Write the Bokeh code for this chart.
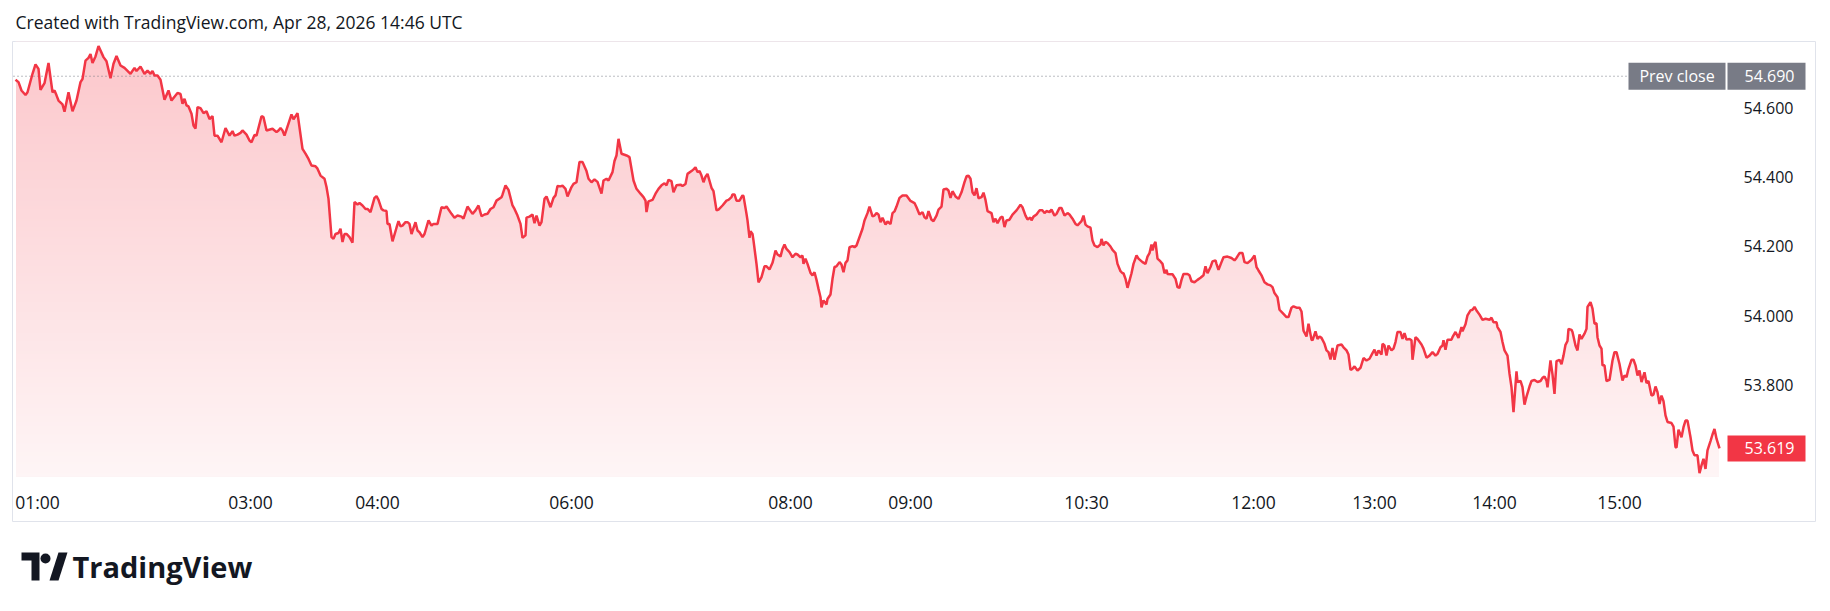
import numpy as np
from bokeh.plotting import figure
from bokeh.layouts import column
from bokeh.models import Range1d, FixedTicker, ColumnDataSource
from bokeh.embed import file_html
from bokeh.resources import INLINE
from bokeh.core.properties import value

FONT = "Open Sans"
TEXT = "#131722"
RED = "#F23645"
RED_RGB = (242, 54, 69)
GRAY = "#787B86"

title_text = "Created with TradingView.com, Apr 28, 2026 14:46 UTC"
brand_text = "TradingView"
prev_close_label = "Prev close"
prev_close = 54.690
last_price = 53.619

# ---- price series (bar index, price) in four sessions ----
bars_1 = [0, 3, 6, 10, 12, 17, 20, 23, 25, 29, 33, 37, 39, 41, 43, 47, 49, 53, 57, 61, 65, 67, 70, 73, 75, 77, 80, 83,
          88, 91, 95, 98, 101, 105, 109, 115, 119, 121, 125, 129, 132, 135, 137, 139, 142, 145, 149, 153, 156, 162, 165,
          167, 169, 171, 173, 176, 178, 180, 182, 185, 188, 191, 194, 197, 199, 202, 206, 210, 214, 217, 219, 222, 225,
          227, 231, 234, 236, 239, 241, 246, 248, 251, 257, 261, 263, 265, 267, 269, 276, 278, 282, 287, 290, 293, 296,
          300, 302, 305, 309, 311, 313, 316, 318, 320, 323, 325, 327, 329, 331, 334, 337, 339, 342, 344, 347, 350, 352,
          355, 359, 361, 363, 366, 368, 371, 372, 374, 377, 381, 383, 385, 387, 390, 392, 394, 396, 400, 402, 404, 407,
          409, 413, 416, 418, 422]
prices_1 = [54.680, 54.673, 54.649, 54.636, 54.644, 54.697, 54.724, 54.711, 54.651, 54.670, 54.728, 54.644, 54.649,
            54.635, 54.620, 54.609, 54.588, 54.644, 54.589, 54.620, 54.673, 54.682, 54.735, 54.743, 54.754, 54.728,
            54.747, 54.777, 54.745, 54.733, 54.684, 54.726, 54.748, 54.721, 54.714, 54.697, 54.714, 54.705, 54.718,
            54.697, 54.706, 54.697, 54.705, 54.692, 54.692, 54.680, 54.622, 54.649, 54.620, 54.642, 54.639, 54.611,
            54.625, 54.606, 54.603, 54.582, 54.548, 54.539, 54.601, 54.598, 54.584, 54.589, 54.567, 54.575, 54.519,
            54.519, 54.500, 54.541, 54.519, 54.532, 54.519, 54.522, 54.527, 54.534, 54.522, 54.505, 54.500, 54.521,
            54.519, 54.575, 54.572, 54.534, 54.539, 54.529, 54.534, 54.541, 54.534, 54.519, 54.580, 54.566, 54.584,
            54.481, 54.467, 54.452, 54.433, 54.431, 54.424, 54.404, 54.395, 54.371, 54.337, 54.227, 54.222, 54.236,
            54.239, 54.251, 54.213, 54.236, 54.236, 54.227, 54.211, 54.328, 54.321, 54.325, 54.318, 54.308, 54.308,
            54.299, 54.340, 54.345, 54.334, 54.308, 54.304, 54.302, 54.265, 54.265, 54.215, 54.254, 54.273, 54.258,
            54.260, 54.270, 54.270, 54.265, 54.236, 54.270, 54.246, 54.241, 54.227, 54.236, 54.275, 54.260, 54.265,
            54.265]

bars_2 = [426, 429, 431, 436, 439, 442, 446, 448, 452, 457, 460, 463, 466, 469, 472, 475, 478, 481, 486, 487, 490, 493,
          497, 499, 502, 505, 507, 510, 511, 514, 517, 519, 521, 524, 526, 529, 531, 535, 538, 540, 542, 545, 547, 550,
          552, 556, 558, 561, 564, 567, 571, 573, 576, 579, 582, 586, 588, 591, 593, 597, 599, 601, 603, 606, 609, 611,
          614, 618, 621, 625, 628, 630, 631, 633, 637, 640, 643, 646, 649, 651, 653, 656, 658, 661, 665, 667, 670, 672,
          676, 678, 680, 682, 684, 686, 688, 690, 692, 696, 698, 701, 703, 707, 711, 713, 716, 717, 719, 721, 724, 727,
          728, 731, 732, 734, 735, 737, 738, 741, 743, 746, 749, 751, 754, 757, 760, 762, 765, 767, 769, 771, 774, 777,
          780, 782, 785, 787, 788, 790, 792, 795, 797, 799, 801, 803, 805, 806, 808, 811, 812, 815, 817, 819, 821, 824,
          826, 828, 830, 832, 834, 837, 839, 841]
prices_2 = [54.313, 54.311, 54.315, 54.294, 54.283, 54.289, 54.286, 54.280, 54.315, 54.294, 54.304, 54.318, 54.287,
            54.292, 54.294, 54.308, 54.313, 54.332, 54.342, 54.349, 54.376, 54.363, 54.318, 54.308, 54.289, 54.265,
            54.225, 54.232, 54.283, 54.286, 54.292, 54.267, 54.289, 54.260, 54.270, 54.337, 54.344, 54.313, 54.340,
            54.347, 54.374, 54.373, 54.375, 54.366, 54.344, 54.371, 54.380, 54.385, 54.443, 54.443, 54.417, 54.395,
            54.385, 54.393, 54.386, 54.352, 54.390, 54.395, 54.390, 54.414, 54.446, 54.462, 54.510, 54.467, 54.464,
            54.462, 54.457, 54.390, 54.366, 54.352, 54.342, 54.332, 54.299, 54.330, 54.334, 54.352, 54.366, 54.376,
            54.382, 54.376, 54.392, 54.388, 54.356, 54.376, 54.378, 54.374, 54.380, 54.409, 54.417, 54.422, 54.428,
            54.414, 54.417, 54.404, 54.385, 54.401, 54.409, 54.369, 54.359, 54.304, 54.306, 54.318, 54.332, 54.334,
            54.342, 54.350, 54.350, 54.332, 54.332, 54.347, 54.345, 54.294, 54.275, 54.225, 54.244, 54.236, 54.217,
            54.150, 54.097, 54.112, 54.143, 54.143, 54.134, 54.153, 54.188, 54.177, 54.171, 54.193, 54.206, 54.193,
            54.184, 54.169, 54.179, 54.177, 54.169, 54.174, 54.150, 54.165, 54.150, 54.124, 54.117, 54.126, 54.104,
            54.078, 54.054, 54.025, 54.045, 54.033, 54.049, 54.062, 54.107, 54.141, 54.143, 54.155, 54.148, 54.126,
            54.153, 54.160, 54.198, 54.201, 54.198, 54.203]

bars_3 = [847, 849, 852, 854, 857, 859, 861, 863, 865, 867, 870, 872, 875, 877, 879, 881, 884, 887, 891, 895, 899, 901,
          904, 907, 909, 911, 913, 916, 918, 921, 923, 926, 928, 931, 933, 935, 937, 940, 943, 946, 949, 951, 953, 955,
          957, 959, 961, 963, 966, 968, 970, 972, 976, 978, 980, 982, 985, 987, 989, 991, 994, 997, 1001, 1005, 1007,
          1010, 1012, 1015, 1016, 1018, 1021, 1024, 1027, 1029, 1031, 1034, 1036, 1039, 1041, 1044, 1046, 1049, 1052,
          1054, 1057, 1060, 1062, 1066, 1068, 1070, 1072, 1075, 1077, 1079, 1082, 1085, 1086, 1088, 1090, 1092, 1095,
          1097, 1100, 1102, 1105, 1107, 1108, 1110, 1112, 1116, 1118, 1121, 1123, 1127, 1130, 1132, 1134, 1136, 1137,
          1139, 1140, 1142, 1145, 1147, 1149, 1151, 1152, 1155, 1157, 1160, 1162, 1164, 1166, 1168, 1172, 1174, 1176,
          1179, 1182, 1185, 1188, 1190, 1192, 1195, 1197, 1200, 1201, 1203, 1206, 1208, 1212, 1216, 1219, 1221, 1224,
          1227, 1229, 1232, 1236, 1239, 1241, 1243, 1246, 1249, 1252, 1255, 1257, 1259, 1262]
prices_3 = [54.251, 54.275, 54.296, 54.315, 54.287, 54.289, 54.296, 54.292, 54.270, 54.283, 54.263, 54.272, 54.265,
            54.296, 54.301, 54.315, 54.340, 54.347, 54.347, 54.331, 54.325, 54.313, 54.292, 54.299, 54.284, 54.280,
            54.302, 54.277, 54.273, 54.289, 54.306, 54.315, 54.364, 54.366, 54.361, 54.340, 54.359, 54.344, 54.337,
            54.356, 54.385, 54.402, 54.404, 54.395, 54.356, 54.347, 54.368, 54.339, 54.342, 54.355, 54.334, 54.302,
            54.296, 54.270, 54.280, 54.267, 54.283, 54.286, 54.256, 54.275, 54.277, 54.292, 54.304, 54.320, 54.313,
            54.289, 54.278, 54.283, 54.275, 54.286, 54.292, 54.304, 54.304, 54.296, 54.302, 54.299, 54.306, 54.289,
            54.294, 54.311, 54.311, 54.289, 54.296, 54.292, 54.280, 54.265, 54.261, 54.273, 54.289, 54.263, 54.258,
            54.254, 54.217, 54.203, 54.198, 54.206, 54.222, 54.203, 54.213, 54.210, 54.200, 54.190, 54.181, 54.150,
            54.129, 54.123, 54.123, 54.107, 54.081, 54.123, 54.150, 54.174, 54.165, 54.155, 54.150, 54.171, 54.181,
            54.206, 54.189, 54.208, 54.213, 54.165, 54.157, 54.150, 54.123, 54.133, 54.121, 54.120, 54.120, 54.107,
            54.083, 54.081, 54.104, 54.121, 54.121, 54.117, 54.100, 54.097, 54.104, 54.110, 54.117, 54.143, 54.123,
            54.141, 54.157, 54.160, 54.150, 54.133, 54.155, 54.169, 54.171, 54.167, 54.160, 54.167, 54.181, 54.181,
            54.155, 54.152, 54.162, 54.174, 54.141, 54.131, 54.117, 54.097, 54.091, 54.088, 54.083, 54.066, 54.054]

bars_4 = [1264, 1267, 1271, 1273, 1276, 1278, 1281, 1284, 1286, 1288, 1291, 1293, 1296, 1297, 1300, 1302, 1304, 1306,
          1309, 1311, 1313, 1315, 1317, 1319, 1322, 1326, 1328, 1331, 1333, 1335, 1337, 1339, 1342, 1345, 1348, 1351,
          1354, 1357, 1359, 1361, 1363, 1366, 1367, 1369, 1371, 1373, 1376, 1378, 1380, 1382, 1385, 1387, 1389, 1391,
          1394, 1396, 1397, 1400, 1402, 1406, 1408, 1411, 1414, 1417, 1420, 1422, 1425, 1427, 1428, 1430, 1432, 1436,
          1437, 1440, 1443, 1446, 1447, 1450, 1452, 1455, 1457, 1459, 1461, 1464, 1467, 1470, 1474, 1476, 1478, 1481,
          1482, 1485, 1487, 1489, 1492, 1494, 1496, 1498, 1501, 1502, 1505, 1507, 1509, 1511, 1514, 1516, 1519, 1522,
          1525, 1527, 1529, 1531, 1532, 1535, 1537, 1539, 1541, 1544, 1546, 1548, 1550, 1552, 1553, 1556, 1557, 1560,
          1562, 1564, 1566, 1569, 1571, 1572, 1575, 1577, 1579, 1581, 1582, 1584, 1586, 1587, 1589, 1591, 1594, 1597,
          1599, 1601, 1604, 1607, 1609, 1611, 1613, 1616, 1618, 1620, 1622, 1624, 1626, 1627, 1629, 1631, 1633, 1636,
          1638, 1640, 1642, 1644, 1646, 1648, 1650, 1652, 1656, 1658, 1660, 1661, 1663, 1666, 1668, 1670, 1672, 1675,
          1677, 1679, 1682, 1684, 1686, 1688, 1690, 1692, 1695, 1697, 1699, 1701, 1704]
prices_4 = [54.018, 54.009, 53.997, 53.997, 54.024, 54.028, 54.024, 54.024, 54.013, 53.958, 53.941, 53.978, 53.932,
            53.930, 53.956, 53.934, 53.941, 53.937, 53.920, 53.901, 53.896, 53.875, 53.908, 53.874, 53.915, 53.918,
            53.910, 53.901, 53.889, 53.845, 53.848, 53.855, 53.843, 53.851, 53.879, 53.872, 53.877, 53.893, 53.903,
            53.886, 53.901, 53.889, 53.920, 53.915, 53.886, 53.915, 53.901, 53.906, 53.925, 53.954, 53.954, 53.934,
            53.951, 53.932, 53.934, 53.930, 53.874, 53.939, 53.934, 53.918, 53.906, 53.880, 53.886, 53.896, 53.886,
            53.891, 53.910, 53.915, 53.930, 53.903, 53.932, 53.932, 53.939, 53.954, 53.937, 53.968, 53.956, 53.976,
            54.002, 54.016, 54.018, 54.026, 54.016, 54.004, 53.989, 53.992, 53.989, 53.995, 53.982, 53.982, 53.968,
            53.954, 53.925, 53.901, 53.886, 53.834, 53.795, 53.723, 53.841, 53.810, 53.813, 53.795, 53.745, 53.768,
            53.797, 53.813, 53.816, 53.810, 53.813, 53.822, 53.826, 53.814, 53.795, 53.872, 53.832, 53.776, 53.870,
            53.874, 53.861, 53.886, 53.917, 53.928, 53.963, 53.960, 53.954, 53.915, 53.901, 53.947, 53.934, 53.949,
            53.963, 54.026, 54.040, 54.021, 53.978, 53.979, 53.939, 53.915, 53.906, 53.858, 53.858, 53.813, 53.816,
            53.872, 53.896, 53.896, 53.862, 53.814, 53.829, 53.824, 53.848, 53.874, 53.874, 53.858, 53.829, 53.843,
            53.810, 53.819, 53.838, 53.807, 53.813, 53.771, 53.774, 53.797, 53.781, 53.747, 53.771, 53.755, 53.714,
            53.695, 53.692, 53.682, 53.623, 53.621, 53.673, 53.651, 53.680, 53.699, 53.699, 53.651, 53.613, 53.599,
            53.599, 53.548, 53.570, 53.589, 53.560, 53.613, 53.640, 53.659, 53.675, 53.647, 53.619]

time_tick_bars = [22, 235, 362, 556, 775, 895, 1071, 1238, 1359, 1479, 1604]
time_tick_labels = ["01:00", "03:00", "04:00", "06:00", "08:00", "09:00", "10:30", "12:00", "13:00", "14:00", "15:00"]
price_ticks = [53.8, 54.0, 54.2, 54.4, 54.6]
price_tick_labels = ["53.800", "54.000", "54.200", "54.400", "54.600"]

bars = np.array(bars_1 + bars_2 + bars_3 + bars_4, dtype=float)
prices = np.array(prices_1 + prices_2 + prices_3 + prices_4, dtype=float)

# ---- view geometry ----
FRAME_W, FRAME_H = 1803, 480
X_LEFT, X_RIGHT = -3, 1800
Y_BOTTOM, Y_TOP = 53.40863, 54.78993
PX_PER_UNIT = FRAME_H / (Y_TOP - Y_BOTTOM)
PANE_PX = 435                       # price pane height in px (rest is time scale)
PANE_BOTTOM = Y_TOP - PANE_PX / PX_PER_UNIT
A_TOP, A_BOT = 0.28, 0.05


def blend(alpha):
    r, g, b = (round(255 - alpha * (255 - c)) for c in RED_RGB)
    return f"#{r:02x}{g:02x}{b:02x}"


p = figure(frame_width=FRAME_W, frame_height=FRAME_H,
           x_range=Range1d(X_LEFT, X_RIGHT), y_range=Range1d(Y_BOTTOM, Y_TOP),
           y_axis_location="right", output_backend="svg", toolbar_location=None,
           min_border_left=12, min_border_right=6, min_border_top=40, min_border_bottom=19,
           background_fill_color="white", border_fill_color="white", title=title_text)
p.title.text_font = FONT
p.title.text_font_size = "17.5px"
p.title.text_font_style = "normal"
p.title.text_color = TEXT
p.title.align = "left"
p.title.offset = 3
p.title.standoff = 15
p.xgrid.visible = False
p.ygrid.visible = False
p.outline_line_color = "#E0E3EB"
p.outline_line_width = 1

# vertical gradient: opaque nested bands (tallest first), then a white mask above the price line
STRIP_PX = 3
n_strips = PANE_PX // STRIP_PX
k = np.arange(n_strips)
tops = Y_TOP - k * STRIP_PX / PX_PER_UNIT
frac = (tops - STRIP_PX / (2 * PX_PER_UNIT) - PANE_BOTTOM) / (Y_TOP - PANE_BOTTOM)
colors = [blend(A_BOT + (A_TOP - A_BOT) * f) for f in frac]
bands = ColumnDataSource(dict(top=tops, color=colors))
p.quad(left=bars[0] + 0.6, right=bars[-1] - 0.6, bottom=PANE_BOTTOM, top="top", source=bands,
       fill_color="color", line_color=None)
p.varea(x=bars, y1=prices, y2=Y_TOP, fill_color="white")

# previous close dotted line
p.segment(x0=[-2], y0=[prev_close], x1=[1611], y1=[prev_close], line_color=GRAY, line_width=1, line_dash="1 3")

# price line
p.line(bars, prices, line_color=RED, line_width=2.5)

# price scale labels (boxes)
p.rect(x=[1661.5], y=[prev_close], width=97, height=27, width_units="screen", height_units="screen",
       fill_color=GRAY, line_color=None)
p.rect(x=[1751], y=[prev_close], width=78, height=27, width_units="screen", height_units="screen",
       fill_color=GRAY, line_color=None)
p.rect(x=[1751], y=[last_price], width=78, height=26, width_units="screen", height_units="screen",
       fill_color=RED, line_color=None)
p.text(x=[1661.5], y=[prev_close], text=[prev_close_label], text_align="center", text_baseline="middle",
       text_color="white", text_font=value(FONT), text_font_size="16px")
p.text(x=[1754, 1754], y=[prev_close, last_price], text=[f"{prev_close:.3f}", f"{last_price:.3f}"],
       text_align="center", text_baseline="middle", text_color="white", text_font=value(FONT),
       text_font_size="16px")

# axes
xa = p.xaxis[0]
xa.ticker = FixedTicker(ticks=time_tick_bars, minor_ticks=[])
xa.major_label_overrides = dict(zip(time_tick_bars, time_tick_labels))
ya = p.yaxis[0]
ya.ticker = FixedTicker(ticks=price_ticks, minor_ticks=[])
ya.major_label_overrides = dict(zip(price_ticks, price_tick_labels))
for ax in (xa, ya):
    ax.axis_line_color = None
    ax.major_tick_line_color = None
    ax.minor_tick_line_color = None
    ax.major_tick_out = 0
    ax.major_tick_in = 0
    ax.minor_tick_out = 0
    ax.major_label_text_font = FONT
    ax.major_label_text_color = TEXT
ya.major_label_text_font_size = "16px"
xa.major_label_text_font_size = "17.5px"
xa.major_label_standoff = -32
ya.major_label_standoff = -72

# brand footer
lg = figure(frame_width=300, frame_height=60, x_range=Range1d(0, 300), y_range=Range1d(0, 60),
            x_axis_location=None, y_axis_location=None, output_backend="svg", toolbar_location=None,
            min_border=0, background_fill_color="white", border_fill_color="white")
lg.xgrid.visible = False
lg.ygrid.visible = False
lg.outline_line_color = None
lg.patch([9, 27, 27, 19, 19, 9], [48, 48, 20, 20, 40, 40], fill_color=TEXT, line_color=None)
lg.circle(x=[33], y=[42], radius=5, fill_color=TEXT, line_color=None)
lg.patch([37, 46, 55, 46], [20, 20, 48, 48], fill_color=TEXT, line_color=None)
lg.text(x=[60], y=[34], text=[brand_text], text_font=value(FONT), text_font_size="29px",
        text_font_style="bold", text_baseline="middle", text_color=TEXT)

layout = column(p, lg)
open("out.html", "w").write(file_html(layout, INLINE))
